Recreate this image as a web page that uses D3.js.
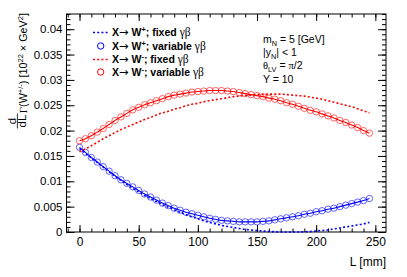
<!DOCTYPE html>
<html><head><meta charset="utf-8">
<script src="https://cdn.jsdelivr.net/npm/d3@7"></script>
<style>body{margin:0;background:#fff}svg{display:block}text{font-family:"Liberation Sans",Arial,Helvetica,sans-serif;fill:#000}</style>
</head><body>
<svg id="c" width="407" height="277"></svg>
<script>
// ---------------- data ----------------
const lengths = [0,5,10,15,20,25,30,35,40,45,50,55,60,65,70,75,80,85,90,95,100,105,110,115,120,125,130,135,140,145,150,155,160,165,170,175,180,185,190,195,200,205,210,215,220,225,230,235,240,245];
const wPlusVariable = [0.0167,0.0157,0.0147,0.0138,0.0129,0.0120,0.0111,0.0103,0.0096,0.0089,0.0082,0.0075,0.0069,0.0063,0.0057,0.0052,0.0047,0.0043,0.0039,0.0036,0.0033,0.0030,0.0027,0.0025,0.0023,0.0022,0.0021,0.0020,0.0020,0.0020,0.0020,0.0021,0.0022,0.0024,0.0026,0.0028,0.0030,0.0032,0.0035,0.0037,0.0040,0.0042,0.0045,0.0047,0.0050,0.0053,0.0056,0.0059,0.0062,0.0066];
const wPlusFixed = [0.0165,0.0155,0.0146,0.0137,0.0128,0.0119,0.0110,0.0102,0.0094,0.0086,0.0079,0.0072,0.0066,0.0060,0.0054,0.0049,0.0044,0.0039,0.0034,0.0030,0.0026,0.0022,0.0019,0.0016,0.0013,0.0011,0.0009,0.0007,0.0005,0.0004,0.0003,0.0002,0.0001,0.00005,0.0,0.0,0.0,0.0,0.00005,0.0001,0.0002,0.0003,0.0004,0.0006,0.0008,0.0010,0.0012,0.0014,0.0016,0.0019];
const wMinusVariable = [0.0180,0.0184,0.0190,0.0197,0.0204,0.0212,0.0220,0.0227,0.0234,0.0241,0.0246,0.0251,0.0255,0.0259,0.0263,0.0267,0.0270,0.0272,0.0274,0.0276,0.0277,0.0278,0.0279,0.0279,0.0279,0.0278,0.0277,0.0275,0.0273,0.0271,0.0269,0.0267,0.0264,0.0262,0.0259,0.0255,0.0252,0.0248,0.0244,0.0240,0.0237,0.0233,0.0229,0.0225,0.0220,0.0216,0.0211,0.0206,0.0200,0.0195];
const wMinusFixed = [0.0158,0.0164,0.0170,0.0177,0.0184,0.0190,0.0196,0.0202,0.0207,0.0212,0.0217,0.0222,0.0226,0.0231,0.0235,0.0238,0.0242,0.0245,0.0249,0.0252,0.0254,0.0257,0.0259,0.0261,0.0263,0.0265,0.0267,0.0268,0.0269,0.0270,0.0271,0.0271,0.0272,0.0272,0.0272,0.0271,0.0270,0.0269,0.0268,0.0266,0.0264,0.0262,0.0259,0.0256,0.0253,0.0250,0.0247,0.0243,0.0239,0.0235];
const xTickValues = [0,50,100,150,200,250];
const xTickLabels = ["0","50","100","150","200","250"];
const yTickValues = [0,0.005,0.01,0.015,0.02,0.025,0.03,0.035,0.04];
const yTickLabels = ["0","0.005","0.01","0.015","0.02","0.025","0.03","0.035","0.04"];
const seriesNames = ["X→ W+; fixed γβ","X→ W+; variable γβ","X→ W-; fixed γβ","X→ W-; variable γβ"];
const infoLines = ["mN = 5 [GeV]","|yN| < 1","θLV = π/2","Y = 10"];

// ---------------- layout ----------------
const svg = d3.select("#c");
const fl = 66.5, fr = 386, ft = 14, fb = 232;
const x = d3.scaleLinear().domain([-11, 259]).range([fl, fr]);
const y = d3.scaleLinear().domain([0, 0.043]).range([fb, ft]);
const BLUE = "#0000ff", RED = "#ff0000";

function rich(sel, parts, base) {
  parts.forEach(p => {
    const t = sel.append("tspan").text(p.t);
    if (p.font) t.style("font-family", p.font);
    if (p.w) t.style("font-weight", p.w);
    if (p.size) t.style("font-size", p.size + "px");
    if (p.sup) t.attr("dy", -base * 0.4).style("font-size", (base * 0.7) + "px");
    if (p.sub) t.attr("dy", base * 0.3).style("font-size", (base * 0.7) + "px");
    if (p.back) t.attr("dy", p.back);
  });
}

// minor ticks
const xMinor = d3.range(-10, 260, 10);
const yMinor = d3.range(0, 44).map(i => i / 1000);
const tickStyle = g => { g.select(".domain").remove(); g.selectAll("line").attr("stroke", "#000").attr("stroke-width", 1); };

svg.append("g").attr("transform", `translate(0,${fb})`)
  .call(d3.axisBottom(x).tickValues(xMinor).tickSize(-3.5).tickFormat("")).call(tickStyle);
svg.append("g").attr("transform", `translate(0,${ft})`)
  .call(d3.axisTop(x).tickValues(xMinor).tickSize(-3.5).tickFormat("")).call(tickStyle);
svg.append("g").attr("transform", `translate(${fl},0)`)
  .call(d3.axisLeft(y).tickValues(yMinor).tickSize(-4).tickFormat("")).call(tickStyle);
svg.append("g").attr("transform", `translate(${fr},0)`)
  .call(d3.axisRight(y).tickValues(yMinor).tickSize(-4).tickFormat("")).call(tickStyle);

// major ticks
const gx = svg.append("g").attr("transform", `translate(0,${fb})`)
  .call(d3.axisBottom(x).tickValues(xTickValues).tickSize(-7).tickPadding(5)
    .tickFormat((d, i) => xTickLabels[i])).call(tickStyle);
gx.selectAll("text").style("font-size", "12px").style("font-family", '"Liberation Sans",Arial,sans-serif');
svg.append("g").attr("transform", `translate(0,${ft})`)
  .call(d3.axisTop(x).tickValues(xTickValues).tickSize(-7).tickFormat("")).call(tickStyle);
const gy = svg.append("g").attr("transform", `translate(${fl},0)`)
  .call(d3.axisLeft(y).tickValues(yTickValues).tickSize(-8).tickPadding(4)
    .tickFormat((d, i) => yTickLabels[i])).call(tickStyle);
gy.selectAll("text").style("font-size", "11.5px").style("font-family", '"Liberation Sans",Arial,sans-serif');
svg.append("g").attr("transform", `translate(${fr},0)`)
  .call(d3.axisRight(y).tickValues(yTickValues).tickSize(-8).tickFormat("")).call(tickStyle);

// frame
svg.append("rect").attr("x", fl).attr("y", ft).attr("width", fr - fl).attr("height", fb - ft)
  .attr("fill", "none").attr("stroke", "#000").attr("stroke-width", 1);

// ---------------- series ----------------
const line = d3.line().x((d, i) => x(lengths[i])).y(d => y(d)).curve(d3.curveMonotoneX);
const plot = svg.append("g");
function fixedLine(vals, col) {
  plot.append("path").datum(vals).attr("d", line).attr("fill", "none")
    .attr("stroke", col).attr("stroke-width", 1.6).attr("stroke-dasharray", "2,2.2");
}
function variable(vals, col) {
  plot.append("path").datum(vals).attr("d", line).attr("fill", "none")
    .attr("stroke", col).attr("stroke-width", 1.1);
  plot.selectAll(null).data(vals).enter().append("circle")
    .attr("cx", (d, i) => x(lengths[i])).attr("cy", d => y(d)).attr("r", 3.2)
    .attr("fill", "none").attr("stroke", col).attr("stroke-opacity", 0.6).attr("stroke-width", 1);
}
fixedLine(wPlusFixed, BLUE);
variable(wPlusVariable, BLUE);
fixedLine(wMinusFixed, RED);
variable(wMinusVariable, RED);

// ---------------- legend ----------------
const legRows = [32.5, 46, 59.5, 72];
const legCols = [BLUE, BLUE, RED, RED];
const legFont = 10.5;
seriesNames.forEach((name, k) => {
  const yy = legRows[k], col = legCols[k];
  if (k % 2 === 0) {
    svg.append("line").attr("x1", 93).attr("x2", 108).attr("y1", yy).attr("y2", yy)
      .attr("stroke", col).attr("stroke-width", 1.6).attr("stroke-dasharray", "2,2.2");
  } else {
    svg.append("circle").attr("cx", 100.7).attr("cy", yy).attr("r", 3.2).attr("fill", "none")
      .attr("stroke", col).attr("stroke-width", 1);
  }
  const m = name.match(/^X→ W([+-]); (.*) γβ$/);
  const t = svg.append("text").attr("x", 112).attr("y", yy + 3.8)
    .style("font-size", legFont + "px").style("font-weight", "bold");
  rich(t, [
    {t: "X"},
    {t: "→", w: "normal", font: '"DejaVu Sans",sans-serif', size: 11.5},
    {t: " W"},
    {t: m[1] === "+" ? "+" : "-", sup: true},
    {t: "; " + m[2] + " ", back: legFont * 0.4},
    {t: "γβ", font: '"Liberation Serif",serif', w: "normal", size: 11.5}
  ], legFont);
});

// ---------------- info text ----------------
const infoRows = [42.5, 56, 69, 83];
const infoFont = 10.5;
const infoParts = [
  [{t: "m"}, {t: "N", sub: true}, {t: " =  5 [GeV]", back: -infoFont * 0.3}],
  [{t: "|y"}, {t: "N", sub: true}, {t: "| < 1", back: -infoFont * 0.3}],
  [{t: "θ", font: '"Liberation Serif",serif'}, {t: "LV", sub: true}, {t: " = ", back: -infoFont * 0.3}, {t: "π", font: '"Liberation Serif",serif'}, {t: "/2"}],
  [{t: "Y = 10"}]
];
infoLines.forEach((s, k) => {
  const t = svg.append("text").attr("x", 263).attr("y", infoRows[k]).style("font-size", infoFont + "px");
  rich(t, infoParts[k], infoFont);
});

// ---------------- axis titles ----------------
svg.append("text").attr("x", 386).attr("y", 266).attr("text-anchor", "end")
  .style("font-size", "12px").text("L [mm]");

const yt = svg.append("g").attr("transform", "translate(27,0) rotate(-90)");
const tf = 10.8;
const tt = yt.append("text").attr("x", -13).attr("y", 0).attr("text-anchor", "end").style("font-size", tf + "px");
rich(tt, [
  {t: "Γ", font: '"Liberation Serif",serif'},
  {t: "(W"},
  {t: "+/-", sup: true},
  {t: ") [10", back: tf * 0.4},
  {t: "22", sup: true},
  {t: " × GeV", back: tf * 0.4},
  {t: "2", sup: true},
  {t: "]", back: tf * 0.4}
], tf);
// fraction d / dL
yt.append("text").attr("x", -121).attr("y", -11.5).attr("text-anchor", "middle").style("font-size", "11.5px").text("d");
yt.append("line").attr("x1", -128.5).attr("x2", -113.5).attr("y1", -9.6).attr("y2", -9.6).attr("stroke", "#000").attr("stroke-width", 0.8);
yt.append("text").attr("x", -121).attr("y", -1).attr("text-anchor", "middle").style("font-size", "11.5px").text("dL");
</script>
</body></html>
